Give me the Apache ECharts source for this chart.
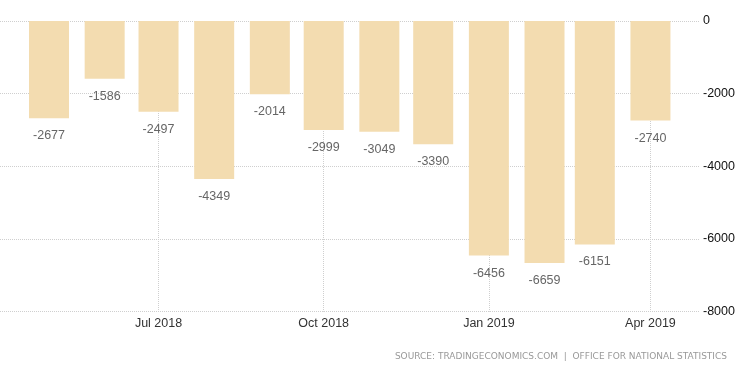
<!DOCTYPE html>
<html>
<head>
<meta charset="utf-8">
<script src="https://cdn.jsdelivr.net/npm/echarts@6/dist/echarts.min.js"></script>
<style>
html,body{margin:0;padding:0;background:#fff;}
#chart{width:750px;height:373px;}
</style>
</head>
<body>
<div id="chart"></div>
<script>
const months = ['2018-05-01','2018-06-01','2018-07-01','2018-08-01','2018-09-01','2018-10-01','2018-11-01','2018-12-01','2019-01-01','2019-02-01','2019-03-01','2019-04-01'];
const values = [-2677,-1586,-2497,-4349,-2014,-2999,-3049,-3390,-6456,-6659,-6151,-2740];
const xTickDates = ['2018-07-01','2018-10-01','2019-01-01','2019-04-01'];
const yTicks = [0,-2000,-4000,-6000,-8000];
const monthNames = ['Jan','Feb','Mar','Apr','May','Jun','Jul','Aug','Sep','Oct','Nov','Dec'];
const sourceText = 'SOURCE: TRADINGECONOMICS.COM  |  OFFICE FOR NATIONAL STATISTICS';

function ts(s){const p=s.split('-').map(Number);return Date.UTC(p[0],p[1]-1,p[2]);}

const chart = echarts.init(document.getElementById('chart'), null, {renderer:'canvas'});
const gridLine = {show:true, lineStyle:{color:'#cfcfcf', type:'dotted', width:1}};
chart.setOption({
  animation: false,
  backgroundColor: '#ffffff',
  grid: {left:0, right:50, top:21, bottom:61.3, containLabel:false},
  xAxis: {
    type:'value',
    min: ts('2018-04-03') + 0.7*86400000,
    max: ts('2019-04-28') + 0.6*86400000,
    axisLine:{show:false},
    axisTick:{show:false, customValues: xTickDates.map(ts)},
    splitLine: gridLine,
    axisLabel:{
      customValues: xTickDates.map(ts),
      margin:5,
      color:'#333',
      fontFamily:'Liberation Sans, Arial, sans-serif',
      fontSize:12.5,
      formatter:function(v){const d=new Date(v);return monthNames[d.getUTCMonth()]+' '+d.getUTCFullYear();}
    }
  },
  yAxis: {
    type:'value',
    position:'right',
    min:-8000, max:0, interval:2000,
    axisLine:{show:false},
    axisTick:{show:false},
    splitLine: gridLine,
    axisLabel:{
      customValues: yTicks,
      margin:3,
      color:'#111',
      fontFamily:'Liberation Sans, Arial, sans-serif',
      fontSize:12.5,
      formatter:function(v){return String(v);}
    }
  },
  series: [{
    type:'bar',
    data: months.map((m,i)=>[ts(m), values[i]]),
    barWidth:40,
    itemStyle:{color:'#F3DCB0'},
    label:{
      show:true,
      position:'bottom',
      distance:11,
      color:'#666',
      fontFamily:'Liberation Sans, sans-serif',
      fontSize:12.5
    }
  }],
  graphic: [{
    type:'text',
    right:23,
    top:352,
    style:{text:sourceText, fill:'#999', fontSize:9, fontFamily:'DejaVu Sans, sans-serif'}
  }]
});
</script>
</body>
</html>
